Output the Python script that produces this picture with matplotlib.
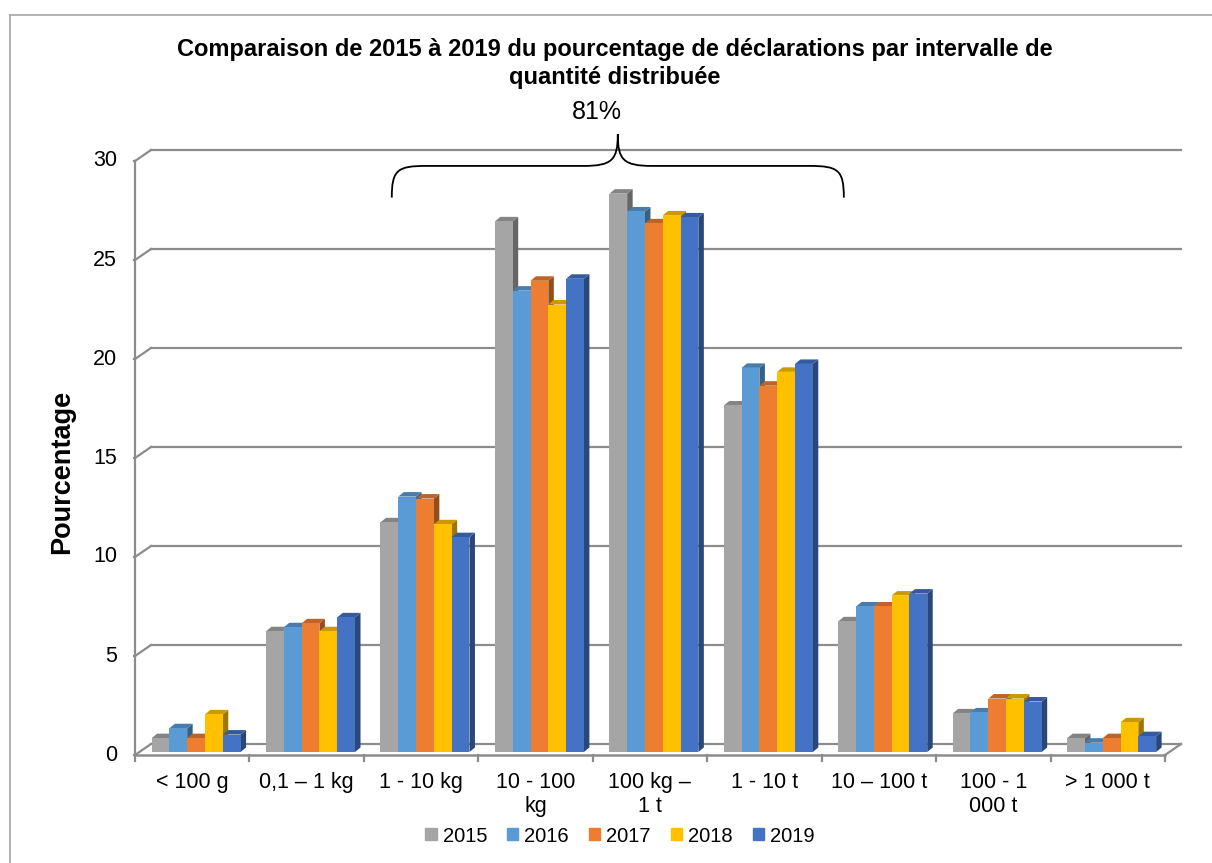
import matplotlib.pyplot as plt
from matplotlib.patches import Polygon, PathPatch, Patch
from matplotlib.path import Path
from matplotlib.lines import Line2D
import matplotlib.colors as mcolors

plt.rcParams['font.family'] = ['Liberation Sans', 'DejaVu Sans']

# données
categories = ['< 100 g', '0,1 – 1 kg', '1 - 10 kg', '10 - 100\nkg', '100 kg –\n1 t',
              '1 - 10 t', '10 – 100 t', '100 - 1\n000 t', '> 1 000 t']
annees = ['2015', '2016', '2017', '2018', '2019']
v2015 = [0.7, 6.1, 11.6, 26.8, 28.2, 17.5, 6.6, 1.95, 0.7]
v2016 = [1.2, 6.3, 12.9, 23.3, 27.3, 19.4, 7.35, 2.0, 0.47]
v2017 = [0.7, 6.5, 12.8, 23.8, 26.7, 18.5, 7.35, 2.7, 0.7]
v2018 = [1.9, 6.1, 11.5, 22.6, 27.1, 19.2, 7.9, 2.7, 1.5]
v2019 = [0.88, 6.8, 10.85, 23.9, 27.0, 19.6, 8.0, 2.55, 0.8]
series = [v2015, v2016, v2017, v2018, v2019]
couleurs = ['#A5A5A5', '#5B9BD5', '#ED7D31', '#FFC000', '#4472C4']
yticks = [0, 5, 10, 15, 20, 25, 30]

W, H = 1212, 863
fig = plt.figure(figsize=(W / 100, H / 100), dpi=100)

# plan des barres : x 140 -> 1170 px, y 752 -> 158 px (depuis le haut)
ax = fig.add_axes([140 / W, (H - 752) / H, 1030 / W, 594 / H])
ax.set_xlim(0, 9)
ax.set_ylim(0, 30)
ax.axis('off')

PX = 9 / 1030   # unités x par pixel
PY = 30 / 594   # unités y par pixel


def off(x, y, dx, dy):
    # décalage en pixels (dy positif vers le haut)
    return x + dx * PX, y + dy * PY


FRONT = (-5, -3)
BACK = (11, 8)
gris = '#8C8C8C'

# paroi du fond et paroi gauche
for v in yticks:
    bx0, by = off(0, v, *BACK)
    bx1, _ = off(9, v, *BACK)
    fx0, fy = off(0, v, *FRONT)
    ax.add_line(Line2D([bx0, bx1], [by, by], color=gris, lw=1.6, zorder=1, clip_on=False))
    ax.add_line(Line2D([fx0, bx0], [fy, by], color=gris, lw=1.6, zorder=1, clip_on=False))
    # graduation et étiquette de l'axe vertical
    tx, _ = off(0, v, -6, 0)
    ax.add_line(Line2D([tx, fx0], [fy, fy], color=gris, lw=1.6, zorder=1, clip_on=False))
    lx, _ = off(0, v, -23, 0)
    ax.text(lx, fy, str(v), ha='right', va='center', fontsize=15.5, clip_on=False)

# axe vertical avant
fx0, fy0 = off(0, 0, *FRONT)
_, fy30 = off(0, 30, *FRONT)
ax.add_line(Line2D([fx0, fx0], [fy0, fy30], color=gris, lw=1.6, zorder=1, clip_on=False))

# sol : bord avant et bord droit
fx9, _ = off(9, 0, *FRONT)
bx9, by0 = off(9, 0, *BACK)
ax.add_line(Line2D([fx0, fx9], [fy0, fy0], color=gris, lw=1.8, zorder=20, clip_on=False))
ax.add_line(Line2D([fx9, bx9], [fy0, by0], color=gris, lw=1.6, zorder=1, clip_on=False))

# graduations de l'axe des catégories et étiquettes
for k in range(10):
    tx, _ = off(k, 0, *FRONT)
    ax.add_line(Line2D([tx, tx], [fy0, fy0 - 6 * PY], color=gris, lw=1.6, zorder=1, clip_on=False))
for i, cat in enumerate(categories):
    cx, _ = off(i + 0.5, 0, *FRONT)
    ax.text(cx, fy0 - 17 * PY, cat, ha='center', va='top', fontsize=15.5,
            linespacing=1.2, clip_on=False)

# barres en pseudo-3D
bw = 0.1555
ddx, ddy = 5.5 * PX, 4.5 * PY
for j, (vals, c) in enumerate(zip(series, couleurs)):
    rgb = mcolors.to_rgb(c)
    top = tuple(ch * 0.8 for ch in rgb)
    side = tuple(ch * 0.62 for ch in rgb)
    xs = [i + 0.49 + (j - 2) * bw for i in range(len(categories))]
    bars = ax.bar(xs, vals, width=bw, color=c, zorder=4 + 2 * j, label=annees[j])
    for b in bars:
        x0 = b.get_x()
        x1 = x0 + b.get_width()
        h = b.get_height()
        ax.add_patch(Polygon([(x1, 0), (x1 + ddx, ddy), (x1 + ddx, h + ddy), (x1, h)],
                             closed=True, fc=side, ec='none', zorder=3 + 2 * j))
        ax.add_patch(Polygon([(x0, h), (x1, h), (x1 + ddx, h + ddy), (x0 + ddx, h + ddy)],
                             closed=True, fc=top, ec='none', zorder=3 + 2 * j))

# accolade au-dessus des catégories 1 - 10 kg à 1 - 10 t
xa, xb = 2.2, 6.15
xm = (xa + xb) / 2
ya, yh, yt = 28.0, 29.6, 31.2
r = 0.3
verts = [(xa, ya), (xa, yh - 0.2), (xa + 0.05, yh), (xa + r, yh),
         (xm - r, yh), (xm - 0.05, yh), (xm, yh + 0.3), (xm, yt),
         (xm, yh + 0.3), (xm + 0.05, yh), (xm + r, yh),
         (xb - r, yh), (xb - 0.05, yh), (xb, yh - 0.2), (xb, ya)]
codes = [Path.MOVETO, Path.CURVE4, Path.CURVE4, Path.CURVE4,
         Path.LINETO, Path.CURVE4, Path.CURVE4, Path.CURVE4,
         Path.CURVE4, Path.CURVE4, Path.CURVE4,
         Path.LINETO, Path.CURVE4, Path.CURVE4, Path.CURVE4]
ax.add_patch(PathPatch(Path(verts, codes), fc='none', ec='black', lw=1.3, zorder=30, clip_on=False))
ax.text(xm - 0.18, 31.7, '81%', ha='center', va='bottom', fontsize=18, clip_on=False)

# titres
fig.text(615 / W, 1 - 38 / H,
         'Comparaison de 2015 à 2019 du pourcentage de déclarations par intervalle de\nquantité distribuée',
         ha='center', va='top', fontsize=17, fontweight='bold', linespacing=1.3)
fig.text(62 / W, 1 - 472 / H, 'Pourcentage', rotation=90, ha='center', va='center',
         fontsize=19.5, fontweight='bold')

# légende
handles = [Patch(color=c) for c in couleurs]
fig.legend(handles, annees, loc='center', bbox_to_anchor=(620 / W, 1 - 836 / H), ncol=5,
           frameon=False, fontsize=14.5, handlelength=0.55, handleheight=0.55,
           handletextpad=0.3, columnspacing=1.0)

# cadre du graphique
fig.add_artist(Line2D([10 / W, 1], [1 - 15 / H, 1 - 15 / H], color='#A6A6A6', lw=1.2))
fig.add_artist(Line2D([10 / W, 10 / W], [0, 1 - 15 / H], color='#A6A6A6', lw=1.2))

fig.savefig('out.png', dpi=100)
